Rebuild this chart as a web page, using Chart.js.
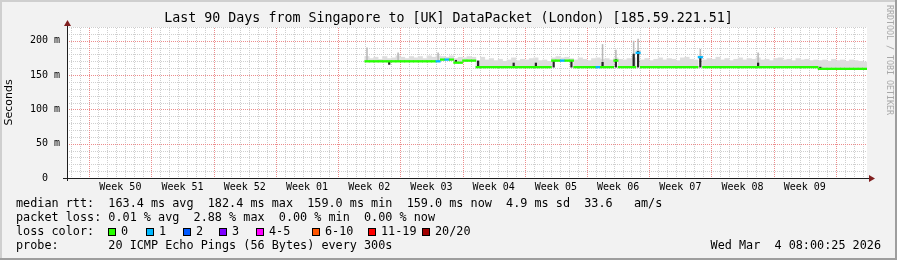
<!DOCTYPE html>
<html>
<head>
<meta charset="utf-8">
<script src="https://cdn.jsdelivr.net/npm/chart.js@4.4.1/dist/chart.umd.min.js"></script>
<style>
  html, body { margin: 0; padding: 0; background: #f2f2f2; }
  canvas { display: block; }
</style>
</head>
<body>
<canvas id="myChart" width="897" height="260"></canvas>
<script>
// x axis runs in days since the start of the 90 day window
var startDay = 33.5;      // first step that holds data
var stepDays = 0.5;       // width of one consolidated step
var firstWeekLine = 2.5;  // first week boundary inside the window
var weekLabels = ['Week 50', 'Week 51', 'Week 52', 'Week 01', 'Week 02', 'Week 03',
                  'Week 04', 'Week 05', 'Week 06', 'Week 07', 'Week 08', 'Week 09'];

// median rtt per step (ms)
var median = [
  170, 170, 170, 170, 170, 170, 170, 170, 170, 170,
  170, 170, 170, 170, 170, 170, 170, 172.5, 172.5, 172.5,
  168, 168, 171, 171, 171, 161.5, 161.5, 161.5, 161.5, 161.5,
  161.5, 161.5, 161.5, 161.5, 161.5, 161.5, 161.5, 161.5, 161.5, 161.5,
  161.5, 161.5, 171, 171, 171, 171, 171, 161.5, 161.5, 161.5,
  161.5, 161.5, 161.5, 161.5, 161.5, 161.5, 171, 161.5, 161.5, 161.5,
  161.5, 182.4, 161.5, 161.5, 161.5, 161.5, 161.5, 161.5, 161.5, 161.5,
  161.5, 161.5, 161.5, 161.5, 161.5, 176, 161.5, 161.5, 161.5, 161.5,
  161.5, 161.5, 161.5, 161.5, 161.5, 161.5, 161.5, 161.5, 161.5, 161.5,
  161.5, 161.5, 161.5, 161.5, 161.5, 161.5, 161.5, 161.5, 161.5, 161.5,
  161.5, 161.5, 159, 159, 159, 159, 159, 159, 159, 159,
  159, 159, 159
];

// top of the smoke (slowest pings) per step (ms)
var smokeTop = [
  177, 174, 176, 173, 177, 174, 175, 178, 176, 174,
  177, 175, 177, 174, 178, 176, 178, 177, 176, 178,
  174, 176, 175, 177, 176, 171, 176, 172, 174, 171,
  173, 170, 172, 175, 171, 173, 172, 174, 175, 171,
  172, 170, 175, 177, 175, 176, 174, 172, 175, 173,
  171, 174, 175, 173, 174, 172, 175, 173, 172, 174,
  175, 186, 172, 174, 171, 173, 175, 172, 174, 173,
  171, 175, 176, 173, 172, 178, 172, 174, 173, 176,
  172, 174, 171, 173, 175, 172, 174, 173, 175, 172,
  173, 171, 174, 175, 172, 173, 171, 174, 172, 173,
  171, 172, 171, 172, 170, 173, 171, 172, 170, 172,
  171, 170, 169
];

// steps with lost pings (out of 20)
var lossIdx = [16, 18, 44, 52, 61, 75];
var lossCount = [1, 1, 1, 1, 1, 1];

// dense dark smoke around level changes
var burstIdx  = [5, 20, 25, 33, 38, 42, 46, 53, 56, 60, 61, 75, 88, 102];
var burstLow  = [165, 168, 161, 161, 161, 161, 161, 161, 161, 161, 161, 161, 161, 158.5];
var burstHigh = [170, 172, 171, 168, 168, 171, 171, 169, 173, 181, 185, 177, 168, 162];

// thin latency spikes
var spikeIdx = [0, 7, 16, 53, 56, 60, 61, 75, 88];
var spikeTop = [190, 183, 183, 195, 187, 200, 203, 188, 183];

var rttStats = [163.4, 182.4, 159.0, 159.0];   // avg, max, min, now
var rttSd = 4.9;
var rttAmS = 33.6;
var lossStats = [0.01, 2.88, 0.00, 0.00];     // avg, max, min, now
var lossLabels = ['0', '1', '2', '3', '4-5', '6-10', '11-19', '20/20'];
var lossColors = ['#26ff00', '#00b8ff', '#0059ff', '#7e00ff', '#ff00ff', '#ff5500', '#ff0000', '#a10000'];
var probeText = '20 ICMP Echo Pings (56 Bytes) every 300s';
var stampText = 'Wed Mar  4 08:00:25 2026';
var titleText = 'Last 90 Days from Singapore to [UK] DataPacket (London) [185.59.221.51]';

function xAt(i) { return startDay + stepDays * i + stepDays / 2; }
function lossAt(i) { var k = lossIdx.indexOf(i); return k < 0 ? 0 : lossCount[k]; }
function lossColor(n) {
  if (n <= 3) return lossColors[n];
  if (n <= 5) return lossColors[4];
  if (n <= 10) return lossColors[5];
  if (n <= 19) return lossColors[6];
  return lossColors[7];
}

var medianBars = median.map(function(v, i) { return {x: xAt(i), y: [v - 1.2, v + 1.2]}; });
var smokeBars = median.map(function(v, i) { return {x: xAt(i), y: [v, smokeTop[i]]}; });
var burstBars = burstIdx.map(function(idx, k) { return {x: xAt(idx), y: [burstLow[k], burstHigh[k]]}; });
var spikeBars = spikeIdx.map(function(idx, k) { return {x: xAt(idx), y: [median[idx], spikeTop[k]]}; });

var MONO = '"DejaVu Sans Mono", monospace';
var minorGrid = '#cfcfcf';
var majorGrid = '#ec8c8c';

var rrdDecor = {
  id: 'rrdDecor',
  beforeDraw: function(chart) {
    var c = chart.ctx, a = chart.chartArea;
    c.save();
    c.fillStyle = '#f2f2f2';
    c.fillRect(0, 0, chart.width, chart.height);
    c.fillStyle = '#ffffff';
    c.fillRect(a.left, a.top, a.right - a.left, a.bottom - a.top);
    c.restore();
  },
  beforeDatasetsDraw: function(chart) {
    // dotted rrdtool style grid, placed with the chart's own scales
    var c = chart.ctx, a = chart.chartArea, xs = chart.scales.x, ys = chart.scales.y;
    function hline(y, color) {
      c.fillStyle = color;
      for (var x = a.left + 2; x < a.right; x += 2) c.fillRect(x, y, 1, 1);
    }
    function vline(x, color) {
      c.fillStyle = color;
      for (var y = a.bottom - 2; y >= a.top; y -= 2) c.fillRect(x, y, 1, 1);
    }
    c.save();
    var majorsY = [], majorsX = [];
    ys.ticks.forEach(function(t) {
      if (t.value === 0) return;
      var y = Math.round(ys.getPixelForValue(t.value));
      if (t.value % 50 === 0) majorsY.push(y); else hline(y, minorGrid);
    });
    xs.ticks.forEach(function(t) {
      if (t.kind === 'label') return;
      var x = Math.round(xs.getPixelForValue(t.value));
      if (t.kind === 'week') majorsX.push(x); else vline(x, minorGrid);
    });
    majorsY.forEach(function(y) { hline(y, majorGrid); });
    majorsX.forEach(function(x) { vline(x, majorGrid); });
    c.restore();
  },
  afterDraw: function(chart) {
    var c = chart.ctx, a = chart.chartArea;
    c.save();

    // axis extensions and arrows
    c.strokeStyle = '#1f1f1f';
    c.lineWidth = 1;
    c.beginPath();
    c.moveTo(a.left + 0.5, a.bottom + 3);
    c.lineTo(a.left + 0.5, a.top - 4);
    c.moveTo(a.left - 4, a.bottom + 0.5);
    c.lineTo(a.right + 2, a.bottom + 0.5);
    c.stroke();
    c.fillStyle = '#801f1f';
    c.beginPath();
    c.moveTo(a.left + 0.5, a.top - 7);
    c.lineTo(a.left - 3, a.top - 1);
    c.lineTo(a.left + 4, a.top - 1);
    c.closePath();
    c.fill();
    c.beginPath();
    c.moveTo(a.right + 8, a.bottom + 0.5);
    c.lineTo(a.right + 2, a.bottom - 3);
    c.lineTo(a.right + 2, a.bottom + 4);
    c.closePath();
    c.fill();

    // title
    c.fillStyle = '#000';
    c.font = '13.3px ' + MONO;
    c.textAlign = 'center';
    c.textBaseline = 'middle';
    c.fillText(titleText, chart.width / 2, 19);

    // legend lines
    c.font = '11.8px ' + MONO;
    c.textAlign = 'left';
    var x0 = 16;
    c.fillText('median rtt:  ' + rttStats[0].toFixed(1) + ' ms avg  ' + rttStats[1].toFixed(1) + ' ms max  ' +
      rttStats[2].toFixed(1) + ' ms min  ' + rttStats[3].toFixed(1) + ' ms now  ' +
      rttSd.toFixed(1) + ' ms sd  ' + rttAmS.toFixed(1) + '   am/s', x0, 204);
    c.fillText('packet loss: ' + lossStats[0].toFixed(2) + ' % avg  ' + lossStats[1].toFixed(2) + ' % max  ' +
      lossStats[2].toFixed(2) + ' % min  ' + lossStats[3].toFixed(2) + ' % now', x0, 218);
    c.fillText('loss color:', x0, 232);
    var boxX = [108, 146, 183, 219, 256, 312, 368, 422];
    lossLabels.forEach(function(lbl, k) {
      c.fillStyle = lossColors[k];
      c.fillRect(boxX[k], 228, 8, 8);
      c.strokeStyle = '#000';
      c.strokeRect(boxX[k] + 0.5, 228.5, 7, 7);
      c.fillStyle = '#000';
      c.fillText(lbl, boxX[k] + 13, 232);
    });
    c.fillText('probe:       ' + probeText, x0, 246);
    c.textAlign = 'right';
    c.fillText(stampText, 881, 246);

    // watermark
    c.translate(889, 60);
    c.rotate(Math.PI / 2);
    c.font = '8.3px ' + MONO;
    c.fillStyle = '#a8a8a8';
    c.textAlign = 'center';
    c.fillText('RRDTOOL / TOBI OETIKER', 0, 0);
    c.setTransform(1, 0, 0, 1, 0, 0);

    // 3d frame
    c.fillStyle = '#cfcfcf';
    c.fillRect(0, 0, chart.width, 2);
    c.fillRect(0, 0, 2, chart.height);
    c.fillStyle = '#9e9e9e';
    c.fillRect(0, chart.height - 2, chart.width, 2);
    c.fillRect(chart.width - 2, 0, 2, chart.height);
    c.restore();
  }
};

var ctx = document.getElementById('myChart').getContext('2d');
var chart = new Chart(ctx, {
  type: 'bar',
  data: {
    datasets: [
      { label: 'median', data: medianBars, grouped: false, barPercentage: 1, categoryPercentage: 1,
        backgroundColor: function(c) { return lossColor(lossAt(c.dataIndex)); } },
      { label: 'burst', data: burstBars, grouped: false, barPercentage: 0.5, categoryPercentage: 1,
        backgroundColor: '#262626' },
      { label: 'spike', data: spikeBars, grouped: false, barPercentage: 0.35, categoryPercentage: 1,
        backgroundColor: '#b8b8b8' },
      { label: 'smoke', data: smokeBars, grouped: false, barPercentage: 1, categoryPercentage: 1,
        backgroundColor: '#dedede' }
    ]
  },
  options: {
    responsive: false,
    animation: false,
    events: [],
    layout: { padding: { top: 27, right: 30, bottom: 62, left: 0 } },
    plugins: {
      legend: { display: false },
      tooltip: { enabled: false },
      title: { display: false }
    },
    scales: {
      x: {
        type: 'linear',
        min: 0,
        max: 90,
        offset: false,
        afterFit: function(s) { s.height = 20; },
        afterBuildTicks: function(scale) {
          var ticks = [];
          for (var d = 0; d < 90; d++) {
            var v = (firstWeekLine % 1) + d;
            ticks.push({ value: v, kind: ((v - firstWeekLine) % 7 === 0) ? 'week' : 'day' });
          }
          weekLabels.forEach(function(lbl, k) {
            ticks.push({ value: firstWeekLine + 7 * k + 3.5, kind: 'label', text: lbl });
          });
          ticks.sort(function(p, q) { return p.value - q.value; });
          scale.ticks = ticks;
        },
        grid: { display: false, offset: false, drawTicks: false },
        border: { display: true, color: '#1f1f1f', width: 1 },
        ticks: {
          autoSkip: false,
          maxRotation: 0,
          padding: 3,
          color: '#000',
          font: { family: MONO, size: 10 },
          callback: function(value, index, ticks) {
            return ticks[index].kind === 'label' ? ticks[index].text : '';
          }
        }
      },
      y: {
        min: 0,
        max: 220,
        afterFit: function(s) { s.width = 67; },
        grid: { display: false, drawTicks: false },
        border: { display: true, color: '#1f1f1f', width: 1 },
        title: {
          display: true,
          text: 'Seconds',
          color: '#000',
          font: { family: '"DejaVu Sans", sans-serif', size: 11 },
          padding: { top: 3, bottom: 0 }
        },
        ticks: {
          stepSize: 10,
          autoSkip: false,
          padding: 7,
          color: '#000',
          font: { family: MONO, size: 10 },
          callback: function(value) {
            if (value % 50 !== 0) return '';
            return value === 0 ? '0  ' : value + ' m';
          }
        }
      }
    }
  },
  plugins: [rrdDecor]
});
</script>
</body>
</html>
